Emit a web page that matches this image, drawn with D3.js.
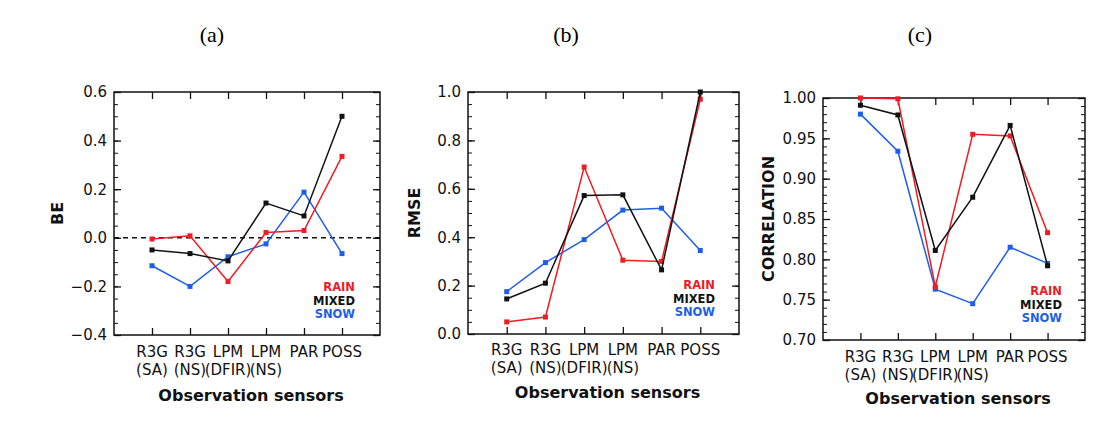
<!DOCTYPE html>
<html><head><meta charset="utf-8">
<script src="https://cdn.jsdelivr.net/npm/d3@7"></script>
<style>body{margin:0;background:#fff}svg{display:block}</style>
</head><body>
<svg id="c" width="1116" height="440"></svg>
<script>
const categories = [["R3G","(SA)"],["R3G","(NS)"],["LPM","(DFIR)"],["LPM","(NS)"],["PAR",""],["POSS",""]];
const seriesNames = ["RAIN","MIXED","SNOW"];
const seriesColors = ["#ee1c24","#111111","#1f5fe8"];

const beRain  = [-0.005, 0.008, -0.18, 0.022, 0.03, 0.335];
const beMixed = [-0.05, -0.065, -0.095, 0.143, 0.09, 0.50];
const beSnow  = [-0.115, -0.20, -0.078, -0.025, 0.188, -0.065];

const rmseRain  = [0.05, 0.07, 0.69, 0.305, 0.30, 0.97];
const rmseMixed = [0.145, 0.21, 0.572, 0.575, 0.265, 1.0];
const rmseSnow  = [0.175, 0.295, 0.39, 0.512, 0.52, 0.345];

const corrRain  = [1.0, 0.999, 0.766, 0.955, 0.953, 0.833];
const corrMixed = [0.991, 0.979, 0.811, 0.877, 0.966, 0.792];
const corrSnow  = [0.980, 0.934, 0.763, 0.745, 0.815, 0.795];

const beTicks = [-0.4, -0.2, 0.0, 0.2, 0.4, 0.6];
const rmseTicks = [0.0, 0.2, 0.4, 0.6, 0.8, 1.0];
const corrTicks = [0.70, 0.75, 0.80, 0.85, 0.90, 0.95, 1.00];

const panels = [
  {title:"(a)", tx:212, ylab:"BE", x0:114, x1:380, y0:92, y1:335, dom:[-0.4,0.6], ticks:beTicks, fmt:d3.format(".1f"), minor:0.05,
   series:[beRain,beMixed,beSnow], zero:true, ylx:57, leg:[355,287], catY:352, titleY:395},
  {title:"(b)", tx:566, ylab:"RMSE", x0:468, x1:739, y0:92, y1:334, dom:[0,1], ticks:rmseTicks, fmt:d3.format(".1f"), minor:0.05,
   series:[rmseRain,rmseMixed,rmseSnow], zero:false, ylx:414, leg:[715,285], catY:350, titleY:392},
  {title:"(c)", tx:920, ylab:"CORRELATION", x0:823, x1:1085, y0:98, y1:340, dom:[0.70,1.00], ticks:corrTicks, fmt:d3.format(".2f"), minor:0.01,
   series:[corrRain,corrMixed,corrSnow], zero:false, ylx:768, leg:[1062,291], catY:357, titleY:398}
];

const svg = d3.select("#c");
const sans = "'DejaVu Sans', Verdana, sans-serif";

panels.forEach(p => {
  const g = svg.append("g");
  const x = d3.scaleLinear().domain([0,7]).range([p.x0,p.x1]);
  const y = d3.scaleLinear().domain(p.dom).range([p.y1,p.y0]);

  g.append("text").attr("x",p.tx).attr("y",42).attr("text-anchor","middle")
    .attr("font-family","'Liberation Serif', serif").attr("font-size",22).text(p.title);

  g.append("rect").attr("x",p.x0).attr("y",p.y0).attr("width",p.x1-p.x0).attr("height",p.y1-p.y0)
    .attr("fill","none").attr("stroke","#111").attr("stroke-width",1.5);

  const nMinor = Math.round((p.dom[1]-p.dom[0])/p.minor);
  const minorVals = d3.range(nMinor+1).map(i => p.dom[0] + i*p.minor);
  const left = d3.axisLeft(y).tickValues(p.ticks).tickFormat(p.fmt).tickSizeInner(-7).tickSizeOuter(0).tickPadding(7);
  const la = g.append("g").attr("transform",`translate(${p.x0},0)`).call(left);
  la.select(".domain").remove();
  la.selectAll("line").attr("stroke","#111").attr("stroke-width",1.3);
  la.selectAll("text").attr("font-family",sans).attr("font-size",15).attr("fill","#111");
  const lm = d3.axisLeft(y).tickValues(minorVals).tickFormat("").tickSizeInner(-4).tickSizeOuter(0);
  const lma = g.append("g").attr("transform",`translate(${p.x0},0)`).call(lm);
  lma.select(".domain").remove(); lma.selectAll("line").attr("stroke","#111");
  const right = d3.axisRight(y).tickValues(p.ticks).tickFormat("").tickSizeInner(-7).tickSizeOuter(0);
  const ra = g.append("g").attr("transform",`translate(${p.x1},0)`).call(right);
  ra.select(".domain").remove(); ra.selectAll("line").attr("stroke","#111").attr("stroke-width",1.3);
  const rm = d3.axisRight(y).tickValues(minorVals).tickFormat("").tickSizeInner(-4).tickSizeOuter(0);
  const rma = g.append("g").attr("transform",`translate(${p.x1},0)`).call(rm);
  rma.select(".domain").remove(); rma.selectAll("line").attr("stroke","#111");

  const idx = d3.range(1,7);
  const bx = d3.axisBottom(x).tickValues(idx).tickFormat("").tickSizeInner(-7).tickSizeOuter(0);
  const bxa = g.append("g").attr("transform",`translate(0,${p.y1})`).call(bx);
  bxa.select(".domain").remove(); bxa.selectAll("line").attr("stroke","#111").attr("stroke-width",1.3);
  const tx = d3.axisTop(x).tickValues(idx).tickFormat("").tickSizeInner(-7).tickSizeOuter(0);
  const txa = g.append("g").attr("transform",`translate(0,${p.y0})`).call(tx);
  txa.select(".domain").remove(); txa.selectAll("line").attr("stroke","#111").attr("stroke-width",1.3);

  categories.forEach((c,i) => {
    const t = g.append("text").attr("x",x(i+1)).attr("y",p.catY+5).attr("text-anchor","middle")
      .attr("font-family",sans).attr("font-size",15).attr("fill","#111");
    t.append("tspan").attr("x",x(i+1)).text(c[0]);
    if (c[1]) t.append("tspan").attr("x",x(i+1)).attr("dy",18).text(c[1]);
  });
  g.append("text").attr("x",(p.x0+p.x1)/2 + 4).attr("y",p.titleY+6).attr("text-anchor","middle")
    .attr("font-family",sans).attr("font-weight","bold").attr("font-size",16).attr("fill","#111")
    .text("Observation sensors");

  g.append("text").attr("transform",`translate(${p.ylx},${(p.y0+p.y1)/2}) rotate(-90)`)
    .attr("text-anchor","middle").attr("dy","0.35em")
    .attr("font-family",sans).attr("font-weight","bold").attr("font-size",16).attr("fill","#111").text(p.ylab);

  if (p.zero) {
    g.append("line").attr("x1",p.x0).attr("x2",p.x1).attr("y1",y(0)).attr("y2",y(0))
      .attr("stroke","#111").attr("stroke-width",1.4).attr("stroke-dasharray","5,4");
  }

  const line = d3.line().x((d,i)=>x(i+1)).y(d=>y(d));
  [2,0,1].forEach(si => {
    const data = p.series[si];
    g.append("path").datum(data).attr("d",line).attr("fill","none")
      .attr("stroke",seriesColors[si]).attr("stroke-width",1.5);
    g.selectAll(null).data(data).enter().append("rect")
      .attr("x",(d,i)=>x(i+1)-2.5).attr("y",d=>y(d)-2.5).attr("width",5).attr("height",5)
      .attr("fill",seriesColors[si]);
  });

  seriesNames.forEach((n,i) => {
    g.append("text").attr("x",p.leg[0]).attr("y",p.leg[1]+i*13.5+4).attr("text-anchor","end")
      .attr("font-family",sans).attr("font-weight","bold").attr("font-size",11.5)
      .attr("fill",seriesColors[i]).text(n);
  });
});
</script>
</body></html>
